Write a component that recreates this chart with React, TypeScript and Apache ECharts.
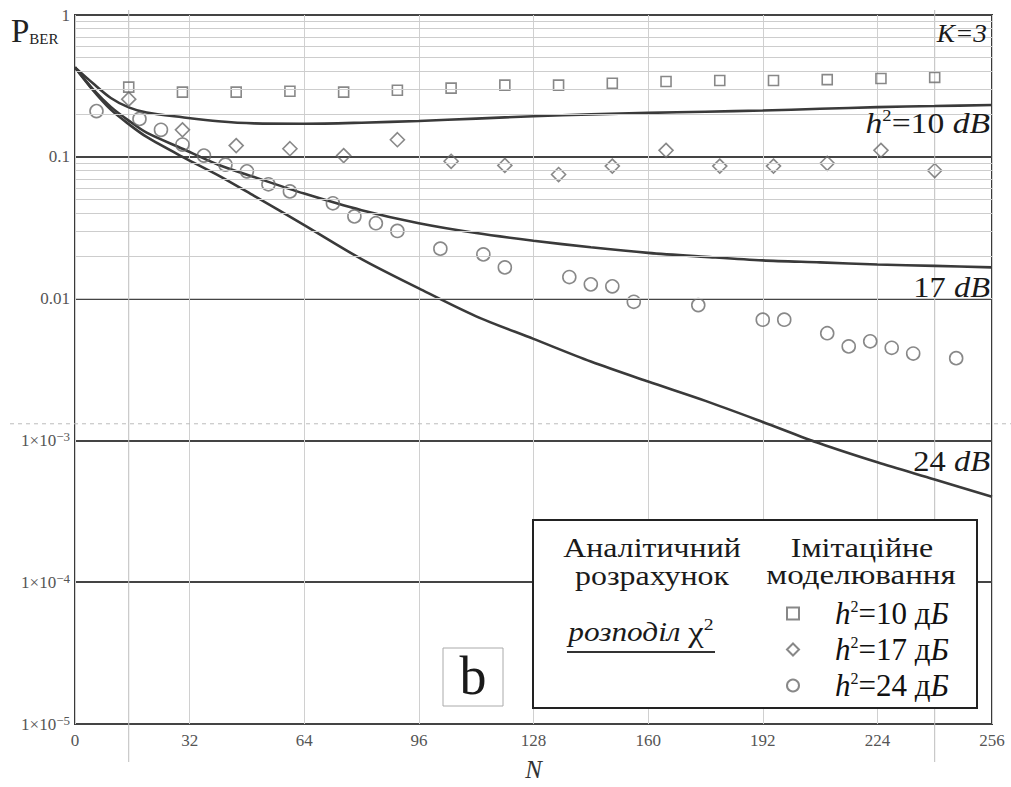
import React, { useEffect, useRef } from "react";
import * as echarts from "echarts";

// ---- Analytic curves (chi-square distribution) ----
const N_CURVE = [0, 5, 10, 15, 20, 30, 40, 50, 64, 80, 96, 112, 128, 144, 160, 176, 192, 208, 224, 240, 256];
const P_CURVE_10 = [0.427, 0.33, 0.26, 0.223, 0.205, 0.19, 0.178, 0.172, 0.171, 0.174, 0.179, 0.186, 0.193, 0.199, 0.204, 0.208, 0.212, 0.218, 0.224, 0.228, 0.232];
const P_CURVE_17 = [0.427, 0.3, 0.225, 0.18, 0.148, 0.114, 0.088, 0.072, 0.055, 0.042, 0.034, 0.029, 0.0256, 0.023, 0.021, 0.0197, 0.0186, 0.018, 0.0174, 0.017, 0.0166];
const P_CURVE_24 = [0.427, 0.295, 0.215, 0.17, 0.138, 0.1, 0.074, 0.053, 0.033, 0.019, 0.0118, 0.0075, 0.0052, 0.0036, 0.0026, 0.0019, 0.00135, 0.00095, 0.0007, 0.00053, 0.0004];

// ---- Simulation points ----
const N_SIM_10 = [15, 30, 45, 60, 75, 90, 105, 120, 135, 150, 165, 180, 195, 210, 225, 240];
const P_SIM_10 = [0.31, 0.286, 0.286, 0.29, 0.286, 0.295, 0.305, 0.32, 0.32, 0.33, 0.34, 0.345, 0.345, 0.35, 0.357, 0.363];
const N_SIM_17 = [15, 30, 45, 60, 75, 90, 105, 120, 135, 150, 165, 180, 195, 210, 225, 240];
const P_SIM_17 = [0.255, 0.155, 0.12, 0.114, 0.102, 0.132, 0.093, 0.087, 0.075, 0.086, 0.111, 0.086, 0.086, 0.09, 0.111, 0.08];
const N_SIM_24 = [6, 18, 24, 30, 36, 42, 48, 54, 60, 72, 78, 84, 90, 102, 114, 120, 138, 144, 150, 156, 174, 192, 198, 210, 216, 222, 228, 234, 246];
const P_SIM_24 = [0.21, 0.185, 0.155, 0.122, 0.102, 0.088, 0.079, 0.064, 0.057, 0.047, 0.038, 0.034, 0.03, 0.0225, 0.0205, 0.0166, 0.0142, 0.0126, 0.0122, 0.0095, 0.009, 0.0071, 0.0071, 0.0057, 0.0046, 0.005, 0.0045, 0.0041, 0.0038];

// ---- Axis / marker settings ----
const X_MIN = 0;
const X_MAX = 256;
const X_STEP = 32;
const Y_MIN = 1e-5;
const Y_MAX = 1;
const MINOR_MULT = [2, 3, 4, 5, 6, 7, 8, 9];
const MARKER_N = [15, 240];
const MARKER_P = 0.00131;
const LEGEND_DB = ["10", "17", "24"];
const CURVE_DB = ["10", "17", "24"];

const FONT = "Liberation Serif, Times New Roman, serif";
const SX = 1.14; // horizontal stretch of annotation text

export default function App() {
  const ref = useRef<HTMLDivElement>(null);

  useEffect(() => {
    document.body.style.margin = "0";
    const chart = echarts.init(ref.current as HTMLDivElement, null, { renderer: "svg" });
    const zip = (xs: number[], ys: number[]) => xs.map((x, i) => [x, ys[i]]);

    const minor: number[] = [];
    for (let e = -5; e < 0; e++) for (const m of MINOR_MULT) minor.push(m * Math.pow(10, e));

    const simNames = LEGEND_DB.map((d) => "sim" + d);
    const curveStyle = { color: "#3a3a3a", width: 2.6 };
    const markerStyle = { color: "transparent", borderColor: "#6a6a6a", borderWidth: 1.6 };

    const option: any = {
      animation: false,
      backgroundColor: "#ffffff",
      textStyle: { fontFamily: FONT },
      grid: {
        left: 75,
        right: 19,
        top: 15,
        bottom: 56,
        show: true,
        borderColor: "#3a3a3a",
        borderWidth: 2,
        backgroundColor: "transparent",
      },
      xAxis: {
        type: "value",
        min: X_MIN,
        max: X_MAX,
        interval: X_STEP,
        axisLine: { show: false },
        axisTick: { show: false },
        splitLine: { show: true, lineStyle: { color: "#d0d0d0", width: 1 } },
        axisLabel: { color: "#555", fontFamily: FONT, fontSize: 17, margin: 8 },
        name: "N",
        nameLocation: "middle",
        nameGap: 33,
        nameTextStyle: { fontFamily: FONT, fontStyle: "italic", fontSize: 25, color: "#333" },
      },
      yAxis: {
        type: "log",
        logBase: 10,
        min: Y_MIN,
        max: Y_MAX,
        axisLine: { show: false },
        axisTick: { show: false },
        splitLine: { show: true, lineStyle: { color: "#444", width: 2 } },
        axisLabel: {
          margin: 5,
          fontFamily: FONT,
          formatter: (v: number) => {
            const e = Math.round(Math.log10(v));
            if (e >= -2) return "{a|" + Math.pow(10, e).toFixed(-e) + "}";
            return "{a|1×10}{s|−" + -e + "}";
          },
          rich: {
            a: { fontFamily: FONT, fontSize: 17, color: "#555", lineHeight: 20 },
            s: { fontFamily: FONT, fontSize: 13, color: "#555", lineHeight: 13, verticalAlign: "top" },
          },
        },
      },
      legend: {
        data: simNames,
        orient: "vertical",
        left: 786,
        top: 598,
        padding: 0,
        itemWidth: 12,
        itemHeight: 12,
        itemGap: 5,
        selectedMode: false,
        z: 120,
        formatter: (name: string) => {
          const d = name.replace("sim", "");
          return "{sp| }{i|h}{s|2}{n|=" + d + " д}{i|Б}";
        },
        textStyle: {
          fontFamily: FONT,
          fontSize: 31,
          lineHeight: 30,
          color: "#111",
          rich: {
            sp: { width: 31, fontSize: 31, lineHeight: 30 },
            i: { fontFamily: FONT, fontStyle: "italic", fontSize: 31, lineHeight: 30, color: "#111" },
            n: { fontFamily: FONT, fontSize: 31, lineHeight: 30, color: "#111" },
            s: { fontFamily: FONT, fontSize: 16, lineHeight: 16, verticalAlign: "top", color: "#111" },
          },
        },
      },
      series: [
        {
          type: "line",
          name: "gridlines",
          data: [],
          z: 1,
          silent: true,
          markLine: {
            silent: true,
            symbol: ["none", "none"],
            label: { show: false },
            lineStyle: { color: "#cdcdcd", width: 1, type: "solid" },
            data: minor.map((v) => ({ yAxis: v })),
          },
        },
        { type: "line", name: "an" + CURVE_DB[0], data: zip(N_CURVE, P_CURVE_10), smooth: 0.3, symbol: "none", lineStyle: curveStyle, z: 3 },
        { type: "line", name: "an" + CURVE_DB[1], data: zip(N_CURVE, P_CURVE_17), smooth: 0.3, symbol: "none", lineStyle: curveStyle, z: 3 },
        { type: "line", name: "an" + CURVE_DB[2], data: zip(N_CURVE, P_CURVE_24), smooth: 0.3, symbol: "none", lineStyle: curveStyle, z: 3 },
        { type: "scatter", name: simNames[0], data: zip(N_SIM_10, P_SIM_10), symbol: "rect", symbolSize: 10, itemStyle: markerStyle, z: 4 },
        { type: "scatter", name: simNames[1], data: zip(N_SIM_17, P_SIM_17), symbol: "diamond", symbolSize: 14, itemStyle: markerStyle, z: 4 },
        { type: "scatter", name: simNames[2], data: zip(N_SIM_24, P_SIM_24), symbol: "circle", symbolSize: 13, itemStyle: markerStyle, z: 4 },
      ],
    };

    chart.setOption(option);

    const finder = { xAxisIndex: 0, yAxisIndex: 0 };
    const mx = MARKER_N.map((n) => (chart.convertToPixel(finder, [n, 1]) as number[])[0]);
    const my = (chart.convertToPixel(finder, [0, MARKER_P]) as number[])[1];

    const txt = (x: number, y: number, text: string, rich: any, align = "right", z = 50, sx = SX) => ({
      type: "text",
      x,
      y,
      z,
      scaleX: sx,
      style: { text, align, verticalAlign: "middle", rich, fontFamily: FONT },
    });
    const R = (size: number, italic = false, extra: any = {}) => ({
      fontFamily: FONT,
      fontSize: size,
      fontStyle: italic ? "italic" : "normal",
      fill: "#1a1a1a",
      lineHeight: size + 2,
      ...extra,
    });

    const elements: any[] = [
      ...mx.map((x) => ({
        type: "line",
        z: 1,
        shape: { x1: x, y1: 10, x2: x, y2: 762 },
        style: { stroke: "#bdbdbd", lineWidth: 1 },
      })),
      {
        type: "line",
        z: 1,
        shape: { x1: 10, y1: my, x2: 1011, y2: my },
        style: { stroke: "#bdbdbd", lineWidth: 1, lineDash: [4, 4] },
      },
      {
        type: "text",
        x: 11,
        y: 14,
        z: 50,
        style: {
          text: "{p|P}{b|BER}",
          fontFamily: FONT,
          rich: {
            p: R(33, false, { lineHeight: 34, fill: "#222" }),
            b: R(15, false, { lineHeight: 18, verticalAlign: "bottom", fill: "#222", padding: [0, 0, 2, 0] }),
          },
        },
      },
      txt(987, 33, "{i|K=3}", { i: R(26, true) }, "right", 50, 1.05),
      txt(990, 123, "{i|h}{s|2}{n|=" + CURVE_DB[0] + " }{i|dB}", { i: R(29, true), n: R(29), s: R(16, false, { verticalAlign: "top", lineHeight: 16 }) }, "right", 50, 1.16),
      txt(990, 288, "{n|" + CURVE_DB[1] + " }{i|dB}", { i: R(29, true), n: R(29) }, "right", 50, 1.12),
      txt(990, 462, "{n|" + CURVE_DB[2] + " }{i|dB}", { i: R(29, true), n: R(29) }, "right", 50, 1.12),
      {
        type: "rect",
        z: 100,
        shape: { x: 533, y: 520, width: 444, height: 188 },
        style: { fill: "#fff", stroke: "#222", lineWidth: 2 },
      },
      txt(652, 547, "{n|Аналітичний}", { n: R(28) }, "center", 110),
      txt(652, 575, "{n|розрахунок}", { n: R(28) }, "center", 110),
      txt(862, 547, "{n|Імітаційне}", { n: R(28) }, "center", 110),
      txt(861, 575, "{n|моделювання}", { n: R(28) }, "center", 110, 1.18),
      txt(641, 632, "{i|розподіл }{c|χ}{s|2}", { i: R(27, true), c: R(30), s: R(17, false, { verticalAlign: "top", lineHeight: 17 }) }, "center", 110, 1.16),
      {
        type: "line",
        z: 110,
        shape: { x1: 567, y1: 652, x2: 715, y2: 652 },
        style: { stroke: "#333", lineWidth: 2 },
      },
      {
        type: "rect",
        z: 100,
        shape: { x: 443, y: 648, width: 60, height: 58 },
        style: { fill: "#fff", stroke: "#aaa", lineWidth: 1 },
      },
      txt(473, 676, "{n|b}", { n: R(54, false, { lineHeight: 56 }) }, "center", 110, 1),
    ];

    chart.setOption({ graphic: { elements } });

    return () => chart.dispose();
  }, []);

  return <div ref={ref} style={{ width: 1011, height: 787 }} />;
}
